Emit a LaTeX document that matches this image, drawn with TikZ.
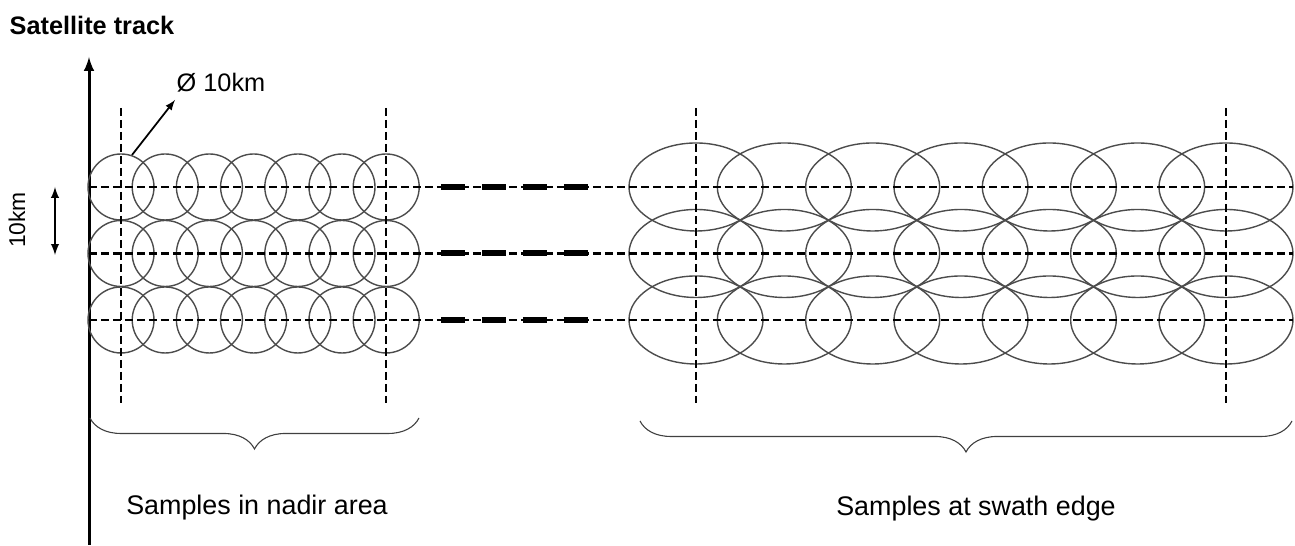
\documentclass[tikz,border=0pt]{standalone}
\usepackage{fontspec}
\setmainfont{Liberation Sans}
\usetikzlibrary{decorations.pathreplacing}

\begin{document}
\begin{tikzpicture}[x=0.02cm, y=0.02cm, font=\fontsize{14.4}{17}\selectfont,
    gridline/.style={line width=0.045cm, dash pattern=on 0.16cm off 0.08cm},
    footprint/.style={line width=0.028cm, black!70},
    bracket/.style={decorate, decoration={brace, mirror, amplitude=0.62cm}, line width=0.022cm, black!75}]
    \useasboundingbox (0,0) rectangle (1295,546);

    \node[font=\bfseries\fontsize{14.4}{17}\selectfont] (track) at (92,521) {Satellite track};
    \draw[line width=0.06cm, -latex] (89,1) -- (89,489);

    % footprints near nadir and at the swath edge
    \foreach \y in {359,292.5,226} {
        \foreach \i in {0,...,6} {
            \draw[footprint] (121+44.2*\i,\y) circle [radius=33];
            \draw[footprint] (696+88.33*\i,\y) ellipse [x radius=67, y radius=44];
        }
    }

    % scan lines
    \foreach \y in {359,292.5,226} {
        \draw[gridline] (89,\y) -- (1293,\y);
        \draw[line width=0.12cm, dash pattern=on 0.48cm off 0.34cm] (441,\y) -- (590,\y);
    }
    \foreach \x in {121,386,696,1226}
        \draw[gridline] (\x,438) -- (\x,143);

    % diameter
    \coordinate (dstart) at (132,391);
    \coordinate (dend) at (175,446);
    \node (diam) at (221,463) {Ø 10km};
    \draw[line width=0.035cm, -latex] (dstart) -- (dend);

    % row spacing
    \coordinate (ktop) at (55,359);
    \coordinate (kbot) at (55,291);
    \draw[line width=0.04cm, latex-latex] (kbot) -- (ktop);
    \node[rotate=90, font=\fontsize{13}{15}\selectfont] (km) at (17,326) {10km};

    % braces
    \draw[bracket] (90,128) -- (419,128);
    \draw[bracket] (640,125) -- (1292,125);
    \node[font=\fontsize{15.3}{18}\selectfont] (nadir) at (257,38) {Samples in nadir area};
    \node[font=\fontsize{15.3}{18}\selectfont] (swath) at (976,37) {Samples at swath edge};
\end{tikzpicture}
\end{document}
